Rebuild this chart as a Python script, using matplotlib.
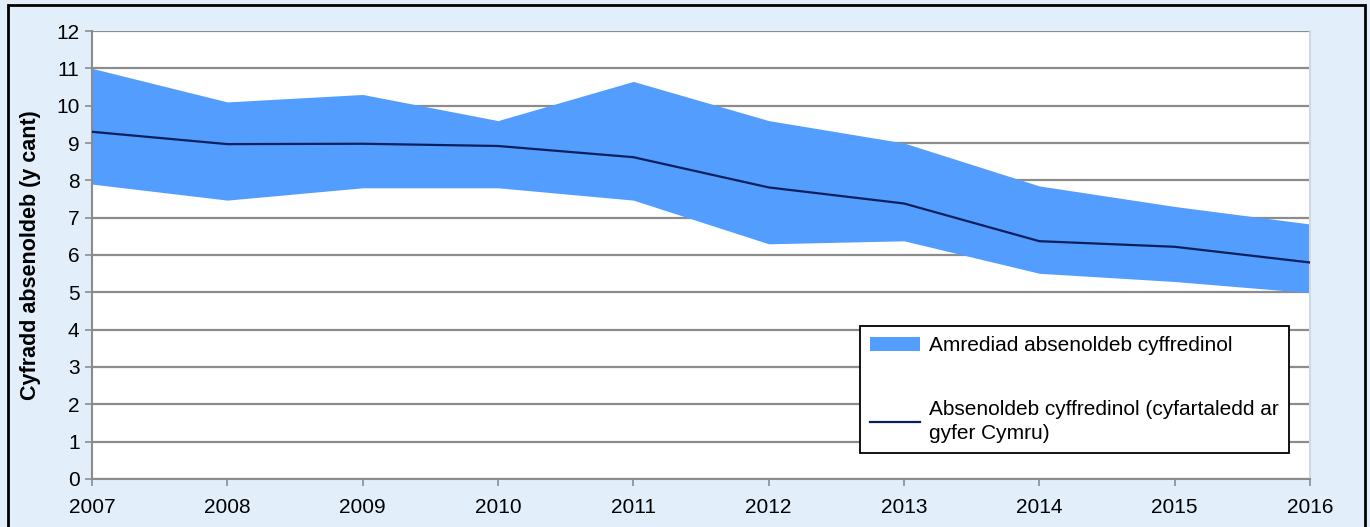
import matplotlib
matplotlib.use("Agg")
import matplotlib.pyplot as plt
from matplotlib.patches import Rectangle

plt.rcParams['font.family'] = ['Liberation Sans', 'DejaVu Sans']

years = [2007, 2008, 2009, 2010, 2011, 2012, 2013, 2014, 2015, 2016]
upper = [11.0, 10.1, 10.3, 9.6, 10.65, 9.6, 9.0, 7.85, 7.3, 6.83]
lower = [7.9, 7.47, 7.8, 7.8, 7.47, 6.3, 6.38, 5.51, 5.29, 4.99]
mean = [9.3, 8.97, 8.98, 8.92, 8.62, 7.81, 7.38, 6.37, 6.22, 5.8]

range_label = "Amrediad absenoldeb cyffredinol"
mean_label = "Absenoldeb cyffredinol (cyfartaledd ar\ngyfer Cymru)"
ylabel = "Cyfradd absenoldeb (y cant)"

bg = '#E3EEFB'
fig = plt.figure(figsize=(13.7, 5.27), dpi=100, facecolor=bg)
ax = fig.add_axes([92/1370, 48/527, (1310-92)/1370, (479-31)/527])
ax.set_facecolor('white')

ax.fill_between(years, lower, upper, color='#529DFE', linewidth=0, label=range_label, zorder=2)
ax.plot(years, mean, color='#0B1F5E', linewidth=1.6, label=mean_label, zorder=3)

ax.set_xlim(2007, 2016)
ax.set_ylim(0, 12)
ax.set_yticks(range(0, 13))
ax.set_xticks(years)
ax.grid(axis='y', color='#8C8C8C', linewidth=1.6, zorder=1)
ax.set_axisbelow(True)
ax.spines['top'].set_visible(False)
ax.spines['right'].set_color('#D0D8E4')
ax.spines['right'].set_linewidth(1.5)
ax.spines['left'].set_color('#8C8C8C')
ax.spines['bottom'].set_color('#8C8C8C')
ax.spines['left'].set_linewidth(1.5)
ax.spines['bottom'].set_linewidth(1.5)
ax.tick_params(axis='both', direction='out', length=5, width=1.2, color='#8C8C8C',
               labelsize=15, labelcolor='black')
ax.tick_params(axis='y', pad=4)
ax.tick_params(axis='x', pad=9)
ax.set_ylabel(ylabel, fontsize=15.5, fontweight='bold', labelpad=11)

leg = ax.legend(loc='upper left', bbox_to_anchor=((860-92)/1218, (479-326)/448),
                frameon=True, fancybox=False, edgecolor='black', framealpha=1,
                fontsize=15, handlelength=2.4, handleheight=0.6, handletextpad=0.4,
                labelspacing=2.15, borderpad=0.5, borderaxespad=0)
leg.get_frame().set_linewidth(1.3)
for t in leg.get_texts():
    t.set_linespacing(1.3)

fig.patches.append(Rectangle((8/1370, -0.02), (1365-8)/1370, 1.02 - 5/527,
                             transform=fig.transFigure, fill=False,
                             edgecolor='black', linewidth=2))

fig.savefig('out.png', dpi=100, facecolor=bg)
